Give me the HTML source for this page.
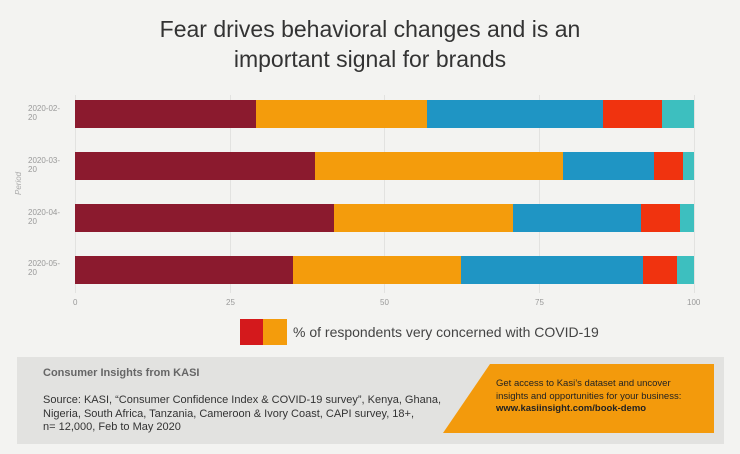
<!DOCTYPE html>
<html><head><style>
body{margin:0;width:740px;height:454px;background:#f3f3f1;font-family:"Liberation Sans",sans-serif;position:relative;overflow:hidden}
.t{position:absolute;left:0;width:740px;top:14px;text-align:center;font-size:23px;line-height:30px;color:#333}
.b{position:absolute;height:28px}
.yl{position:absolute;left:28px;font-size:8px;color:#999;line-height:9px}
.xl{position:absolute;top:298px;font-size:8px;color:#999}
.g{position:absolute;top:95px;height:198px;width:1px;background:#e2e2e0}
</style></head><body>
<div class="t">Fear drives behavioral changes and is an<br>important signal for brands</div>
<div class="g" style="left:75px"></div><div class="g" style="left:230px"></div><div class="g" style="left:384px"></div><div class="g" style="left:539px"></div><div class="g" style="left:694px"></div>
<div class="yl" style="top:104px">2020-02-<br>20</div>
<div class="yl" style="top:156px">2020-03-<br>20</div>
<div class="yl" style="top:208px">2020-04-<br>20</div>
<div class="yl" style="top:259px">2020-05-<br>20</div>
<div style="position:absolute;left:14px;top:195px;font-size:8px;color:#aaa;font-style:italic;transform:rotate(-90deg);transform-origin:left top">Period</div>
<div class="xl" style="left:73px">0</div><div class="xl" style="left:226px">25</div><div class="xl" style="left:380px">50</div><div class="xl" style="left:535px">75</div><div class="xl" style="left:687px">100</div>
<div class="b" style="top:100px;left:75px;width:181px;background:#8b1a2e"></div>
<div class="b" style="top:100px;left:256px;width:171px;background:#f49c0c"></div>
<div class="b" style="top:100px;left:427px;width:176px;background:#1f95c4"></div>
<div class="b" style="top:100px;left:603px;width:59px;background:#f0330f"></div>
<div class="b" style="top:100px;left:662px;width:32px;background:#3dbfbf"></div>
<div class="b" style="top:152px;left:75px;width:240px;background:#8b1a2e"></div>
<div class="b" style="top:152px;left:315px;width:248px;background:#f49c0c"></div>
<div class="b" style="top:152px;left:563px;width:91px;background:#1f95c4"></div>
<div class="b" style="top:152px;left:654px;width:29px;background:#f0330f"></div>
<div class="b" style="top:152px;left:683px;width:11px;background:#3dbfbf"></div>
<div class="b" style="top:204px;left:75px;width:259px;background:#8b1a2e"></div>
<div class="b" style="top:204px;left:334px;width:179px;background:#f49c0c"></div>
<div class="b" style="top:204px;left:513px;width:128px;background:#1f95c4"></div>
<div class="b" style="top:204px;left:641px;width:39px;background:#f0330f"></div>
<div class="b" style="top:204px;left:680px;width:14px;background:#3dbfbf"></div>
<div class="b" style="top:256px;left:75px;width:218px;background:#8b1a2e"></div>
<div class="b" style="top:256px;left:293px;width:168px;background:#f49c0c"></div>
<div class="b" style="top:256px;left:461px;width:182px;background:#1f95c4"></div>
<div class="b" style="top:256px;left:643px;width:34px;background:#f0330f"></div>
<div class="b" style="top:256px;left:677px;width:17px;background:#3dbfbf"></div>
<div style="position:absolute;left:240px;top:319px;width:23px;height:26px;background:#d4191c"></div>
<div style="position:absolute;left:263px;top:319px;width:24px;height:26px;background:#f49c0c"></div>
<div style="position:absolute;left:293px;top:324px;font-size:14px;color:#444">% of respondents very concerned with COVID-19</div>
<div style="position:absolute;left:17px;top:357px;width:707px;height:87px;background:#e2e2e0"></div>
<div style="position:absolute;left:43px;top:367px;font-size:11px;font-weight:bold;color:#666">Consumer Insights from KASI</div>
<div style="position:absolute;left:43px;top:394px;font-size:11px;line-height:13.5px;color:#333;white-space:nowrap">Source: KASI, “Consumer Confidence Index &amp; COVID-19 survey”, Kenya, Ghana,<br>Nigeria, South Africa, Tanzania, Cameroon &amp; Ivory Coast, CAPI survey, 18+,<br>n= 12,000, Feb to May 2020</div>
<svg style="position:absolute;left:0;top:0" width="740" height="454"><polygon points="490,364 714,364 714,433 443,433" fill="#f39a0c"/></svg>
<div style="position:absolute;left:496px;top:378px;font-size:9.5px;line-height:12.7px;color:#222">Get access to Kasi’s dataset and uncover<br>insights and opportunities for your business:<br><b>www.kasiinsight.com/book-demo</b></div>
</body></html>
